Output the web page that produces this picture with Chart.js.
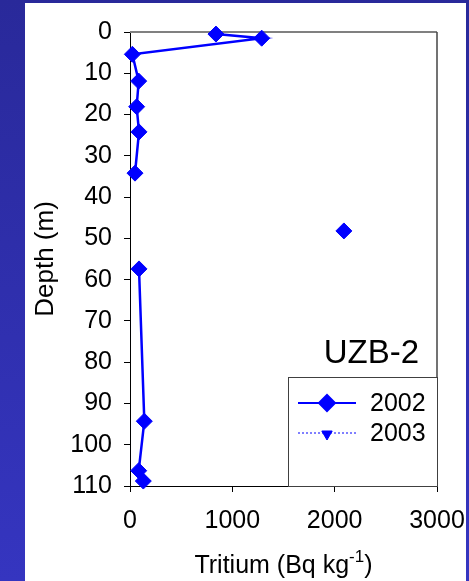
<!DOCTYPE html>
<html>
<head>
<meta charset="utf-8">
<script src="https://cdn.jsdelivr.net/npm/chart.js@4/dist/chart.umd.min.js"></script>
<style>
  html, body { margin: 0; padding: 0; }
  body {
    width: 469px;
    height: 581px;
    overflow: hidden;
    background: linear-gradient(#29299a, #3535c0);
  }
  .panel {
    position: absolute;
    left: 25px;
    top: 3px;
    width: 441px;
    height: 578px;
    background: #fff;
  }
</style>
</head>
<body>
<div class="panel"><canvas id="chart" width="441" height="578"></canvas></div>
<script>
// depth profile, null = break in the line
const depth2002 = [0.5, 1.5, 5.4, 11.9, 18.1, 24.2, 34.2, null, 48.2, null, 57.4, 94.3, 106.3, 108.8];
const tritium2002 = [840, 1287, 23, 85, 65, 88, 49, null, 2090, null, 88, 140, 85, 130];
const depth2003 = [];
const tritium2003 = [];

const xTicks = [0, 1000, 2000, 3000];
const yTicks = [0, 10, 20, 30, 40, 50, 60, 70, 80, 90, 100, 110];

const blue = '#0000ff';
const FONT = "'Liberation Sans', Arial, sans-serif";

function toPoints(xs, ys) {
  return xs.map((x, i) => (x === null ? { x: null, y: null } : { x, y: ys[i] }));
}

// top/right frame of the plot, legend box, labels
const framePlugin = {
  id: 'frame',
  beforeDatasetsDraw(chart) {
    const { ctx, chartArea: a } = chart;
    ctx.save();
    ctx.strokeStyle = '#808080';
    ctx.lineWidth = 2;
    ctx.beginPath();
    ctx.moveTo(a.left, a.top);
    ctx.lineTo(a.right, a.top);
    ctx.stroke();
    ctx.strokeStyle = '#444';
    ctx.lineWidth = 1.5;
    ctx.beginPath();
    ctx.moveTo(a.right, a.top);
    ctx.lineTo(a.right, a.bottom);
    ctx.stroke();
    ctx.restore();
  },
  afterDraw(chart) {
    const { ctx, chartArea: a } = chart;
    ctx.save();

    // x axis title with superscript
    const main = 'Tritium (Bq kg';
    const sup = '-1';
    const end = ')';
    ctx.fillStyle = '#000';
    ctx.textBaseline = 'alphabetic';
    ctx.font = `25px ${FONT}`;
    const w1 = ctx.measureText(main).width;
    const w3 = ctx.measureText(end).width;
    ctx.font = `17px ${FONT}`;
    const w2 = ctx.measureText(sup).width;
    const tx = (a.left + a.right) / 2 - (w1 + w2 + w3) / 2;
    const ty = 570;
    ctx.font = `25px ${FONT}`;
    ctx.textAlign = 'left';
    ctx.fillText(main, tx, ty);
    ctx.font = `17px ${FONT}`;
    ctx.fillText(sup, tx + w1, ty - 11);
    ctx.font = `25px ${FONT}`;
    ctx.fillText(end, tx + w1 + w2, ty);

    // label
    ctx.font = `33px ${FONT}`;
    ctx.textAlign = 'right';
    ctx.fillText('UZB-2', 394, 360);

    // legend box
    const bx = 263, by = 374, bw = a.right - 263, bh = a.bottom - 374;
    ctx.fillStyle = '#fff';
    ctx.fillRect(bx, by, bw, bh);
    ctx.strokeStyle = '#404040';
    ctx.lineWidth = 1;
    ctx.strokeRect(bx + 0.5, by + 0.5, bw, bh);

    const rows = [
      { label: '2002', y: 400, dash: [], width: 2, style: 'rectRot', radius: 8 },
      { label: '2003', y: 430, dash: [2, 2], width: 1, style: 'triangle', radius: 6 },
    ];
    rows.forEach((r) => {
      ctx.strokeStyle = blue;
      ctx.fillStyle = blue;
      ctx.lineWidth = r.width;
      ctx.setLineDash(r.dash);
      ctx.beginPath();
      ctx.moveTo(273, r.y);
      ctx.lineTo(331, r.y);
      ctx.stroke();
      ctx.setLineDash([]);
      Chart.helpers.drawPoint(ctx, {
        pointStyle: r.style,
        radius: r.radius,
        rotation: r.style === 'triangle' ? 180 : 0,
        borderWidth: 1,
      }, 302, r.style === 'triangle' ? r.y + 1 : r.y);
      ctx.fillStyle = '#000';
      ctx.font = `25px ${FONT}`;
      ctx.textAlign = 'left';
      ctx.textBaseline = 'middle';
      ctx.fillText(r.label, 345, r.y + 1);
    });
    ctx.restore();
  },
};

const tickFont = { family: FONT, size: 25 };

new Chart(document.getElementById('chart'), {
  type: 'scatter',
  data: {
    datasets: [
      {
        label: '2002',
        data: toPoints(tritium2002, depth2002),
        showLine: true,
        spanGaps: false,
        borderColor: blue,
        backgroundColor: blue,
        borderWidth: 2.5,
        pointStyle: 'rectRot',
        pointRadius: 8,
        pointBorderWidth: 1,
        clip: false,
      },
      {
        label: '2003',
        data: toPoints(tritium2003, depth2003),
        showLine: true,
        borderColor: blue,
        backgroundColor: blue,
        borderWidth: 1,
        borderDash: [2, 2],
        pointStyle: 'triangle',
        rotation: 180,
        pointRadius: 6,
        clip: false,
      },
    ],
  },
  options: {
    responsive: false,
    animation: false,
    layout: { padding: { top: 29, right: 29, left: 0, bottom: 0 } },
    plugins: {
      legend: { display: false },
      tooltip: { enabled: false },
    },
    scales: {
      x: {
        type: 'linear',
        min: xTicks[0],
        max: xTicks[xTicks.length - 1],
        afterBuildTicks: (s) => { s.ticks = xTicks.map((v) => ({ value: v })); },
        ticks: {
          color: '#000',
          font: tickFont,
          padding: 14,
          maxRotation: 0,
          callback: (v) => String(v),
        },
        grid: { drawOnChartArea: false, tickLength: 6, color: '#000' },
        border: { color: '#000', width: 1 },
        afterFit: (s) => {
          s.height = 95;
          s.paddingLeft = 0;
          s.paddingRight = 0;
        },
      },
      y: {
        type: 'linear',
        reverse: true,
        min: yTicks[0],
        max: yTicks[yTicks.length - 1],
        afterBuildTicks: (s) => { s.ticks = yTicks.map((v) => ({ value: v })); },
        ticks: {
          color: '#000',
          font: tickFont,
          padding: 12,
          callback: (v) => String(v),
        },
        grid: { drawOnChartArea: false, tickLength: 6, color: '#000' },
        border: { color: '#000', width: 1 },
        title: {
          display: true,
          text: 'Depth (m)',
          color: '#000',
          font: { family: FONT, size: 26 },
          padding: { top: 5, bottom: 0 },
        },
        afterFit: (s) => {
          s.width = 105;
          s.paddingTop = 0;
          s.paddingBottom = 0;
        },
      },
    },
  },
  plugins: [framePlugin],
});
</script>
</body>
</html>
